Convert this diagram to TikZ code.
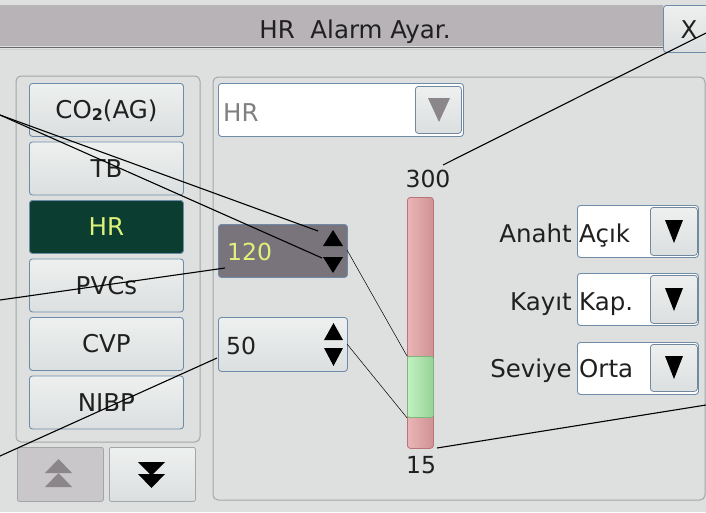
\documentclass[tikz,border=0pt]{standalone}
\usepackage{fontspec}
\setmainfont{DejaVu Sans}
\definecolor{bgc}{HTML}{DDE0DF}
\definecolor{titlec}{HTML}{B7B3B7}
\definecolor{bordb}{HTML}{6E8CA8}
\definecolor{btntop}{HTML}{EEF0F0}
\definecolor{btnbot}{HTML}{DCDFDF}
\definecolor{dgreen}{HTML}{0B3D30}
\definecolor{yel}{HTML}{DDF27A}
\definecolor{spind}{HTML}{79747B}
\definecolor{pinkc}{HTML}{E6A2A4}
\definecolor{pinkb}{HTML}{B87478}
\definecolor{greenc}{HTML}{A8EAA8}
\definecolor{greenb}{HTML}{7DB57D}
\definecolor{panb}{HTML}{A2A6A6}
\definecolor{greytri}{HTML}{8A868A}
\definecolor{upbc}{HTML}{C9C7C9}
\definecolor{txt}{HTML}{202020}
\newcommand\bigf{\fontsize{24.5}{28}\selectfont}
\newcommand\numf{\fontsize{23.5}{28}\selectfont}
\begin{document}
\begin{tikzpicture}[x=1pt,y=-1pt,
  lead/.style={draw=black,line width=1.1pt},
  thinlead/.style={draw=black,line width=0.5pt},
  btn/.style={draw=bordb,line width=0.9pt,rounded corners=3pt,top color=btntop,bottom color=btnbot,
    minimum width=154pt,minimum height=53pt,anchor=north west,inner sep=0pt,
    text height=18pt,text depth=0pt,font=\bigf,text=txt},
  dropbox/.style={draw=bordb,line width=0.9pt,rounded corners=3pt,fill=white,anchor=north west,inner sep=0pt},
  arrbtn/.style={draw=bordb!70!gray,line width=0.8pt,rounded corners=3pt,top color=btntop,bottom color=btnbot,anchor=north west,inner sep=0pt},
  lbl/.style={font=\bigf,text=txt,inner sep=0pt},
  numl/.style={font=\numf,text=txt,inner sep=0pt},
  panel/.style={draw=panb,line width=1pt,rounded corners=5pt},
  tri/.style={fill=black}
]
\useasboundingbox (0,0) rectangle (706,512);
\fill[bgc] (0,0) rectangle (706,512);
% title bar
\fill[titlec] (0,5) rectangle (663,46);
\draw[gray!80!black,line width=1pt] (0,47) -- (663,47);
\draw[titlec!60!white,line width=1pt] (0,49) -- (663,49);
\node[lbl,anchor=base] (title) at (355,38) {HR\ \ Alarm Ayar.};
\node[draw=bordb,line width=0.9pt,rounded corners=3pt,top color=btntop,bottom color=btnbot,
  minimum width=52pt,minimum height=47pt,anchor=north west,inner sep=0pt] (xbtn) at (663,5) {};
\node[lbl,anchor=base] (xlbl) at (689,38) {X};
% panels
\draw[panel] (16,76) rectangle (200,442);
\draw[panel] (213,77) rectangle (705,500);
% left buttons
\node[btn] (co2) at (29,83) {CO{\fontsize{16}{16}\selectfont\bfseries\raisebox{-1.5pt}{2}}(AG)};
\node[btn] (tb) at (29,141.5) {TB};
\node[btn,fill=dgreen,top color=dgreen,bottom color=dgreen,text=yel] (hr) at (29,200) {HR};
\node[btn] (pvc) at (29,258.5) {PVCs};
\node[btn] (cvp) at (29,317) {CVP};
\node[btn] (nibp) at (29,375.5) {NIBP};
% scroll buttons
\node[draw=panb,line width=0.8pt,rounded corners=2pt,fill=upbc,minimum width=86pt,minimum height=54pt,anchor=north west,inner sep=0pt] (upb) at (17,447) {};
\node[draw=panb,line width=0.8pt,rounded corners=2pt,top color=btntop,bottom color=btnbot,minimum width=86pt,minimum height=54pt,anchor=north west,inner sep=0pt] (dnb) at (109,447) {};
\fill[greytri] (45,473) -- (58.5,459) -- (72,473) -- cycle;
\fill[greytri] (45,487) -- (58.5,473) -- (72,487) -- cycle;
\fill[black] (138,462) -- (165,462) -- (151.5,475.5) -- cycle;
\fill[black] (138,474) -- (165,474) -- (151.5,488) -- cycle;
% HR dropdown
\node[dropbox,minimum width=245pt,minimum height=53pt] (hrdd) at (218,83) {};
\node[arrbtn,minimum width=46pt,minimum height=47pt] (hrddb) at (415,86) {};
\fill[greytri] (428,98) -- (450,98) -- (439,122) -- cycle;
\node[lbl,text=gray,anchor=base west] (hrtxt) at (223,121) {HR};
% slider
\node[draw=pinkb,line width=0.8pt,rounded corners=3pt,left color=pinkc!80!white,right color=pinkc!90!black,
  minimum width=26pt,minimum height=251pt,anchor=north west,inner sep=0pt] (bar) at (407,197) {};
\node[draw=greenb,line width=0.8pt,rounded corners=2pt,left color=greenc!70!white,right color=greenc!90!black,
  minimum width=26pt,minimum height=61pt,anchor=north west,inner sep=0pt] (grn) at (407,356) {};
\node[numl,anchor=base] (v300) at (428,187) {300};
\node[numl,anchor=base] (v15) at (421,473) {15};
% spin boxes
\node[draw=bordb,line width=0.9pt,rounded corners=3pt,fill=spind,minimum width=129pt,minimum height=53pt,anchor=north west,inner sep=0pt] (spinA) at (218,224) {};
\node[numl,text=yel,anchor=base west] (v120) at (227,260) {120};
\fill[tri] (323,246) -- (333,230) -- (343,246) -- cycle;
\fill[tri] (323,257) -- (343,257) -- (333,273) -- cycle;
\node[draw=bordb,line width=0.9pt,rounded corners=3pt,top color=btntop,bottom color=btnbot,minimum width=129pt,minimum height=54pt,anchor=north west,inner sep=0pt] (spinB) at (218,317) {};
\node[numl,anchor=base west] (v50) at (226,354) {50};
\fill[tri] (324,340) -- (333.5,323) -- (343,340) -- cycle;
\fill[tri] (324,348) -- (343,348) -- (333.5,366) -- cycle;
% right dropdowns
\node[dropbox,minimum width=121pt,minimum height=52pt] (dd1) at (577,205) {};
\node[arrbtn,minimum width=47pt,minimum height=48pt] (dd1b) at (650,207) {};
\fill[tri] (665,220) -- (683,220) -- (674,243) -- cycle;
\node[lbl,anchor=base east] (l1) at (572,242) {Anaht};
\node[lbl,anchor=base west] (t1) at (579,242) {Açık};
\node[dropbox,minimum width=121pt,minimum height=52pt] (dd2) at (577,273) {};
\node[arrbtn,minimum width=47pt,minimum height=48pt] (dd2b) at (650,275) {};
\fill[tri] (665,288) -- (683,288) -- (674,311) -- cycle;
\node[lbl,anchor=base east] (l2) at (572,310) {Kayıt};
\node[lbl,anchor=base west] (t2) at (579,310) {Kap.};
\node[dropbox,minimum width=121pt,minimum height=52pt] (dd3) at (577,342) {};
\node[arrbtn,minimum width=47pt,minimum height=47pt] (dd3b) at (650,344) {};
\fill[tri] (665,356) -- (683,356) -- (674,379) -- cycle;
\node[lbl,anchor=base east] (l3) at (572,377) {Seviye};
\node[lbl,anchor=base west] (t3) at (579,377) {Orta};
% leader coordinates
\coordinate (oA) at (0,115);
\coordinate (upA) at (318,231);
\coordinate (dnA) at (322,258);
\coordinate (oB) at (0,300);
\coordinate (eB) at (225,268);
\coordinate (oC) at (0,456);
\coordinate (eC) at (217,358);
\coordinate (oD) at (706,33);
\coordinate (eD) at (443,165);
\coordinate (oE) at (706,405);
\coordinate (eE) at (437,448);
\coordinate (sA) at (347,250);
\coordinate (sB) at (347,344);
% leaders
\draw[lead] (oA) -- (upA);
\draw[lead] (oA) -- (dnA);
\draw[lead] (oB) -- (eB);
\draw[lead] (oC) -- (eC);
\draw[lead] (oD) -- (eD);
\draw[lead] (oE) -- (eE);
\draw[thinlead] (sA) -- (grn.north west);
\draw[thinlead] (sB) -- (grn.south west);
\end{tikzpicture}
\end{document}
